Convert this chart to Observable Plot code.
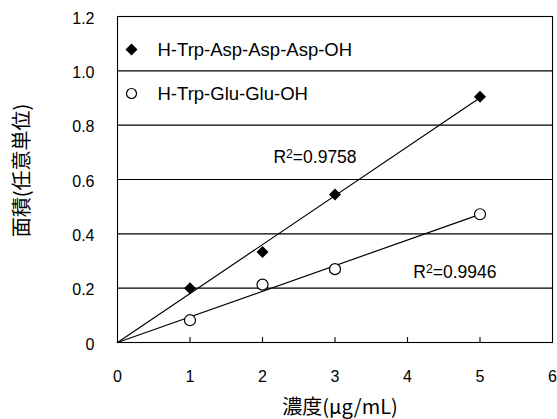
<!DOCTYPE html>
<html><head><meta charset="utf-8">
<script src="https://cdn.jsdelivr.net/npm/d3@7"></script>
<script src="https://cdn.jsdelivr.net/npm/@observablehq/plot@0.6"></script>
<style>body{margin:0;background:#fff} svg{display:block}</style>
</head><body><div id="chart"></div>
<script>
const seriesNames = ["H-Trp-Asp-Asp-Asp-OH", "H-Trp-Glu-Glu-OH"];
const concentrations = [1, 2, 3, 5];
const aspValues = [0.20, 0.333, 0.545, 0.905];
const gluValues = [0.082, 0.213, 0.270, 0.472];
const r2Labels = ["R²=0.9758", "R²=0.9946"];
const r2X = [2.15, 4.08];
const r2Y = [0.68, 0.258];
const xTicks = [0, 1, 2, 3, 4, 5, 6];
const yTicks = [0, 0.2, 0.4, 0.6, 0.8, 1.0, 1.2];
const xLabel = "濃度(μg/mL)";
const yLabel = "面積(任意単位)";

const latin = "'Liberation Sans', Arial, sans-serif";
const cjk = "'Noto Sans CJK JP', sans-serif";

const asp = concentrations.map((x, i) => ({x, y: aspValues[i]}));
const glu = concentrations.map((x, i) => ({x, y: gluValues[i]}));
function trend(pts) {
  const k = d3.sum(pts, d => d.x * d.y) / d3.sum(pts, d => d.x * d.x);
  const xmax = d3.max(pts, d => d.x);
  return [{x: 0, y: 0}, {x: xmax, y: k * xmax}];
}
const notes = r2Labels.map((t, i) => ({t, x: r2X[i], y: r2Y[i]}));

const upTick = {draw(ctx, l) { ctx.moveTo(0, 0); ctx.lineTo(0, -l); }};

const chart = Plot.plot({
  width: 557,
  height: 419,
  marginLeft: 117,
  marginRight: 5,
  marginTop: 16,
  marginBottom: 77,
  style: {background: "#fff", color: "#000"},
  x: {domain: [0, 6]},
  y: {domain: [0, 1.2]},
  marks: [
    Plot.ruleY(yTicks, {stroke: "#000", strokeWidth: 1.1}),
    Plot.frame({stroke: "#000", strokeWidth: 1.1}),
    Plot.vector(xTicks.slice(1, -1), {x: d => d, y: 0, length: 5, rotate: 0, anchor: "start", shape: upTick, stroke: "#000", strokeWidth: 1.1}),
    Plot.axisY({ticks: yTicks, tickSize: 0, tickPadding: 23, dy: 2, label: null,
      tickFormat: d => d === 0 ? "0" : d3.format(".1f")(d), fontSize: 16, fontFamily: latin, fill: "#000"}),
    Plot.axisX({ticks: xTicks, tickSize: 0, tickPadding: 28, label: null,
      tickFormat: d => String(d), fontSize: 16, fontFamily: latin, fill: "#000"}),
    Plot.line(trend(asp), {x: "x", y: "y", stroke: "#000", strokeWidth: 1.2}),
    Plot.line(trend(glu), {x: "x", y: "y", stroke: "#000", strokeWidth: 1.2}),
    Plot.dot(asp, {x: "x", y: "y", symbol: "diamond2", r: 5.4, fill: "#000", stroke: "none"}),
    Plot.dot(glu, {x: "x", y: "y", symbol: "circle", r: 5.5, fill: "#fff", stroke: "#000", strokeWidth: 1.2}),
    Plot.text(notes, {x: "x", y: "y", text: "t", textAnchor: "start", lineAnchor: "middle", fontSize: 17.5, fontFamily: latin, fill: "#000", className: "r2note"}),
    // legend
    Plot.dot([seriesNames[0]], {frameAnchor: "top-left", dx: 14, dy: 33, symbol: "diamond2", r: 5.4, fill: "#000"}),
    Plot.dot([seriesNames[1]], {frameAnchor: "top-left", dx: 14, dy: 77, symbol: "circle", r: 5, fill: "#fff", stroke: "#000", strokeWidth: 1.2}),
    Plot.text([seriesNames[0]], {frameAnchor: "top-left", dx: 40, dy: 34, text: d => d, textAnchor: "start", lineAnchor: "middle", fontSize: 18.5, fontFamily: latin, fill: "#000"}),
    Plot.text([seriesNames[1]], {frameAnchor: "top-left", dx: 40, dy: 78, text: d => d, textAnchor: "start", lineAnchor: "middle", fontSize: 18.5, fontFamily: latin, fill: "#000"}),
    // axis titles
    Plot.text([xLabel], {frameAnchor: "bottom", dx: 5, dy: 65, text: d => d, textAnchor: "middle", lineAnchor: "middle", fontSize: 20, fontFamily: cjk, fill: "#000"}),
    Plot.text([yLabel], {frameAnchor: "left", dx: -95, dy: -9, rotate: -90, text: d => d, textAnchor: "middle", lineAnchor: "middle", fontSize: 20, fontFamily: cjk, fill: "#000"})
  ]
});
// render R² with a real superscript 2
chart.querySelectorAll("text").forEach(t => {
  const s = t.textContent;
  const i = s.indexOf("²");
  if (i < 0) return;
  while (t.firstChild) t.removeChild(t.firstChild);
  const ns = "http://www.w3.org/2000/svg";
  const a = document.createElementNS(ns, "tspan"); a.textContent = s.slice(0, i);
  const b = document.createElementNS(ns, "tspan"); b.textContent = "2";
  b.setAttribute("font-size", "70%"); b.setAttribute("dy", "-0.42em");
  const c = document.createElementNS(ns, "tspan"); c.textContent = s.slice(i + 1);
  c.setAttribute("dy", "0.3em");
  t.append(a, b, c);
});
document.getElementById("chart").appendChild(chart);
</script>
</body></html>
